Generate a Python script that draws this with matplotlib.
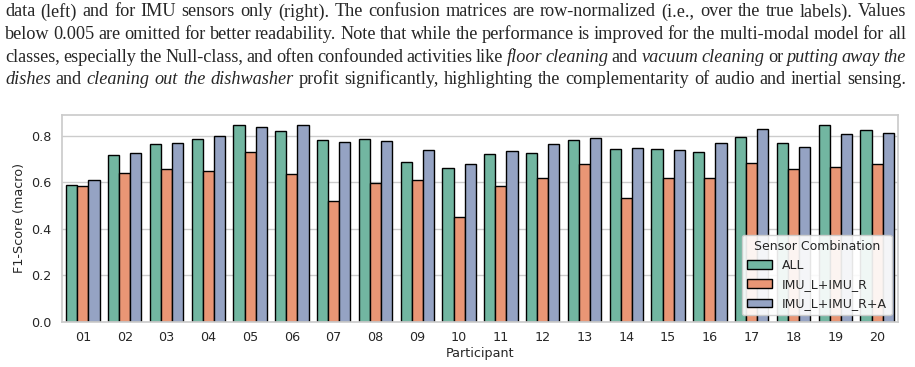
import pandas as pd
import matplotlib
matplotlib.use("Agg")
import matplotlib.pyplot as plt
import seaborn as sns

participants = ["%02d" % i for i in range(1, 21)]
f1_all = [0.586, 0.717, 0.764, 0.784, 0.846, 0.820, 0.779, 0.787, 0.688, 0.661,
          0.721, 0.724, 0.780, 0.743, 0.744, 0.731, 0.793, 0.769, 0.846, 0.822]
f1_imu = [0.583, 0.639, 0.657, 0.647, 0.728, 0.636, 0.517, 0.596, 0.609, 0.451,
          0.583, 0.618, 0.677, 0.530, 0.616, 0.616, 0.681, 0.658, 0.665, 0.678]
f1_imu_a = [0.609, 0.726, 0.767, 0.797, 0.836, 0.846, 0.773, 0.777, 0.739, 0.678,
            0.733, 0.764, 0.789, 0.747, 0.736, 0.769, 0.830, 0.749, 0.807, 0.813]
combos = ["ALL", "IMU_L+IMU_R", "IMU_L+IMU_R+A"]

caption_lines = [
    "data (left) and for IMU sensors only (right). The confusion matrices are row-normalized (i.e., over the true labels). Values",
    "below 0.005 are omitted for better readability. Note that while the performance is improved for the multi-modal model for all",
    "classes, especially the Null-class, and often confounded activities like *floor cleaning* and *vacuum cleaning* or *putting away the*",
    "*dishes* and *cleaning out the dishwasher* profit significantly, highlighting the complementarity of audio and inertial sensing.",
]

rows = []
for name, vals in zip(combos, [f1_all, f1_imu, f1_imu_a]):
    for p, v in zip(participants, vals):
        rows.append({"Participant": p, "F1": v, "Sensor Combination": name})
df = pd.DataFrame(rows)

sns.set_theme(style="whitegrid")
plt.rcParams["font.family"] = ["DejaVu Sans"]

W, H = 915, 367
fig = plt.figure(figsize=(W / 100, H / 100), dpi=100)
ax = fig.add_axes([62 / W, 1 - 321.7 / H, (898 - 62) / W, (321.7 - 115) / H])

sns.barplot(data=df, x="Participant", y="F1", hue="Sensor Combination",
            palette="Set2", edgecolor="black", linewidth=1, ax=ax)
ax.set_xlim(-0.5, 19.5)
ax.set_ylabel("F1-Score (macro)", fontsize=9.2)
ax.set_xlabel("Participant", fontsize=9.2, labelpad=2)
ax.tick_params(labelsize=9.2)
ax.tick_params(axis="x", pad=0.5)
ax.tick_params(axis="y", pad=1.5)
ax.legend(title="Sensor Combination", loc="lower right", fontsize=9,
          title_fontsize=9, framealpha=0.9)

# justified caption above the chart
renderer = fig.canvas.get_renderer()
x0, x1 = 5, 906
ys = [12, 34.5, 57, 79]
words_per_line = []
for line in caption_lines:
    words = []
    italic = False
    for tok in line.split(" "):
        if tok.startswith("*"):
            italic = True
            tok = tok[1:]
        end = tok.endswith("*")
        if end:
            tok = tok[:-1]
        words.append((tok, italic))
        if end:
            italic = False
    words_per_line.append(words)

fsize = 13.15
for words, y in zip(words_per_line, ys):
    texts = []
    for w, it in words:
        t = fig.text(0, 1 - y / H, w, fontsize=fsize, family="Liberation Serif",
                     style="italic" if it else "normal", va="center", ha="left")
        texts.append(t)
    widths = [t.get_window_extent(renderer).width for t in texts]
    gap = (x1 - x0 - sum(widths)) / (len(texts) - 1)
    x = x0
    for t, wd in zip(texts, widths):
        t.set_x(x / W)
        x += wd + gap

fig.savefig("out.png", dpi=100)
